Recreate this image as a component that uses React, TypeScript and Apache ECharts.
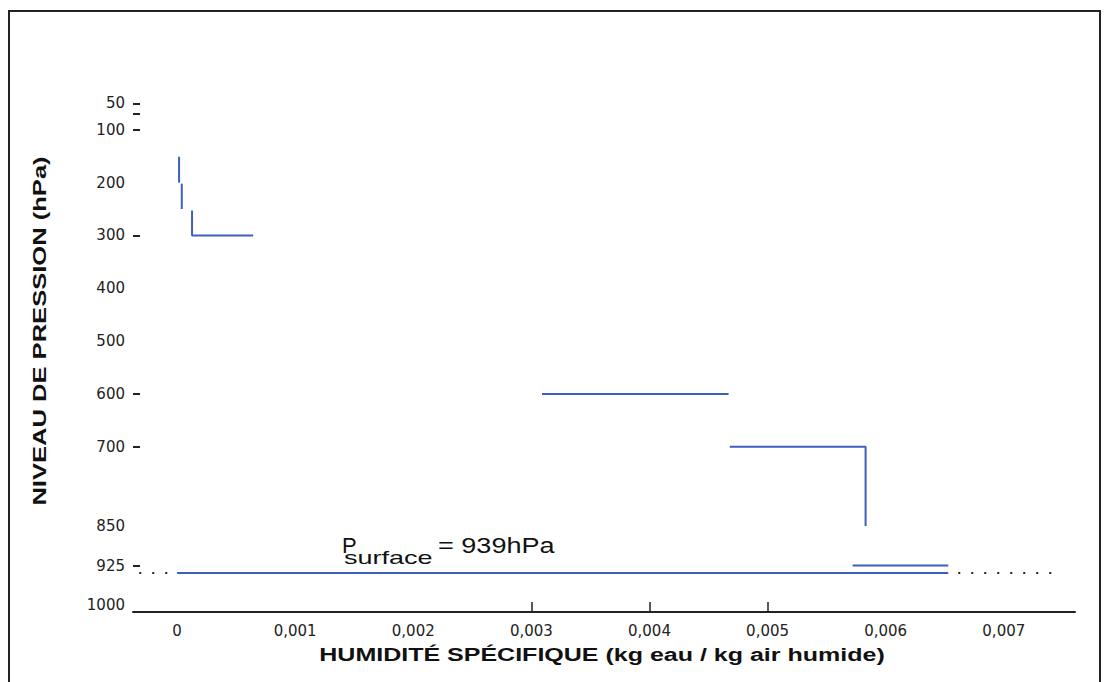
import React, { useEffect, useRef } from "react";
import * as echarts from "echarts";

// Tick labels
const xLabelValues = [0, 0.001, 0.002, 0.003, 0.004, 0.005, 0.006, 0.007];
const xTickValues = [0.003, 0.004, 0.005];
const yLabelValues = [50, 100, 200, 300, 400, 500, 600, 700, 850, 925, 1000];
const yTickValues = [50, 70, 100, 300, 600, 700, 925];

// Specific humidity profile segments (q in kg/kg, p in hPa)
const qSeg1 = [0.000017, 0.000017];
const pSeg1 = [151, 200];
const qSeg2 = [0.00004, 0.00004];
const pSeg2 = [202, 250];
const qSeg3 = [0.000127, 0.000127, 0.000644];
const pSeg3 = [253, 300, 300];
const qSeg4 = [0.00309, 0.00467];
const pSeg4 = [600, 600];
const qSeg5 = [0.00468, 0.00583, 0.00583];
const pSeg5 = [700, 700, 850];
const qSeg6 = [0.00572, 0.00653];
const pSeg6 = [925, 925];
const qSurface = [0, 0.00653];
const pSurface = [939, 939];
const qSurfaceDots = [-0.00032, 0.00743];
const pSurfaceDots = [939, 939];

const segments = [
  [qSeg1, pSeg1],
  [qSeg2, pSeg2],
  [qSeg3, pSeg3],
  [qSeg4, pSeg4],
  [qSeg5, pSeg5],
  [qSeg6, pSeg6],
  [qSurface, pSurface],
];

const zip = (q: number[], p: number[]) => q.map((v, i) => [v, p[i]]);

const BLUE = "#3d5fbf";
const INK = "#222222";

export default function App() {
  const ref = useRef<HTMLDivElement>(null);
  useEffect(() => {
    if (!ref.current) return;
    const chart = echarts.init(ref.current, null, { renderer: "svg" });
    const series: any[] = [
      {
        type: "line",
        data: zip(qSurfaceDots, pSurfaceDots),
        showSymbol: false,
        symbol: "none",
        lineStyle: { color: INK, width: 2, type: [2, 11] },
        z: 1,
        silent: true,
      },
      ...segments.map(([q, p]) => ({
        type: "line",
        data: zip(q, p),
        showSymbol: false,
        symbol: "none",
        lineStyle: { color: BLUE, width: 2 },
        z: 3,
        silent: true,
      })),
    ];
    chart.setOption({
      animation: false,
      backgroundColor: "#ffffff",
      grid: { left: 133, right: 33, top: 77, bottom: 70, containLabel: false },
      xAxis: {
        type: "value",
        min: -0.000373,
        max: 0.007603,
        splitLine: { show: false },
        axisLine: { show: true, onZero: false, lineStyle: { color: INK, width: 2 } },
        axisTick: {
          show: true,
          inside: true,
          length: 10,
          customValues: xTickValues,
          lineStyle: { color: INK, width: 1.5 },
        },
        axisLabel: {
          customValues: xLabelValues,
          margin: 11,
          color: INK,
          fontSize: 15,
          fontFamily: "DejaVu Sans",
          formatter: (v: number) => (v === 0 ? "0" : v.toFixed(3).replace(".", ",")),
        },
      },
      yAxis: {
        type: "value",
        inverse: true,
        min: 0,
        max: 1013,
        splitLine: { show: false },
        axisLine: { show: false, onZero: false },
        axisTick: {
          show: true,
          inside: true,
          length: 7,
          customValues: yTickValues,
          lineStyle: { color: INK, width: 2 },
        },
        axisLabel: {
          customValues: yLabelValues,
          margin: 8,
          color: INK,
          fontSize: 15,
          fontFamily: "DejaVu Sans",
          formatter: (v: number) => String(v),
        },
      },
      graphic: [
        {
          type: "rect",
          shape: { x: 9, y: 11, width: 1091, height: 700 },
          style: { fill: "none", stroke: INK, lineWidth: 2 },
          silent: true,
        },
        {
          type: "text",
          x: 602,
          y: 655,
          scaleX: 1.39,
          style: {
            text: "HUMIDITÉ SPÉCIFIQUE (kg eau / kg air humide)",
            align: "center",
            verticalAlign: "middle",
            fontSize: 18,
            fontWeight: "bold",
            fontFamily: "Liberation Sans",
            fill: "#111",
          },
        },
        {
          type: "text",
          x: 40,
          y: 331,
          rotation: Math.PI / 2,
          scaleX: 1.42,
          style: {
            text: "NIVEAU DE PRESSION (hPa)",
            align: "center",
            verticalAlign: "middle",
            fontSize: 18,
            fontWeight: "bold",
            fontFamily: "Liberation Sans",
            fill: "#111",
          },
        },
        {
          type: "text",
          x: 342,
          y: 545,
          style: {
            text: "P",
            align: "left",
            verticalAlign: "middle",
            fontSize: 22,
            fontFamily: "Liberation Sans",
            fill: "#111",
          },
        },
        {
          type: "text",
          x: 344,
          y: 558,
          scaleX: 1.5,
          style: {
            text: "surface",
            align: "left",
            verticalAlign: "middle",
            fontSize: 18,
            fontFamily: "Liberation Sans",
            fill: "#111",
          },
        },
        {
          type: "text",
          x: 438,
          y: 545,
          scaleX: 1.23,
          style: {
            text: "= 939hPa",
            align: "left",
            verticalAlign: "middle",
            fontSize: 22,
            fontFamily: "Liberation Sans",
            fill: "#111",
          },
        },
      ],
      series,
    });
    return () => chart.dispose();
  }, []);
  return (
    <div
      ref={ref}
      style={{ position: "absolute", left: 0, top: 0, width: 1108, height: 682, background: "#fff" }}
    />
  );
}
